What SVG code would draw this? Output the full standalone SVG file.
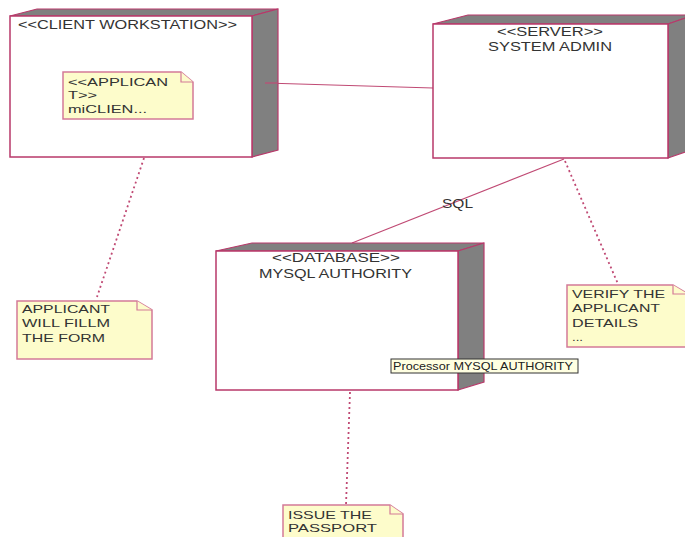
<svg xmlns="http://www.w3.org/2000/svg" width="685" height="537" viewBox="0 0 685 537">
<style>
.front{fill:#fff;stroke:#b8396a;stroke-width:1.5}
.face{fill:#808080;stroke:#b8396a;stroke-width:1.2}
.note{fill:#fdfccb;stroke:#d47a98;stroke-width:1.5}
.fold{fill:#fdfccb;stroke:#d47a98;stroke-width:1.2}
text{font-family:"Liberation Sans",Arial,sans-serif;font-size:13px;fill:#333}
.nt{font-size:11.5px}
.solid{stroke:#c04a74;stroke-width:1.2;fill:none}
.dot{stroke:#c04a74;stroke-width:1.8;fill:none;stroke-dasharray:2,3}
</style>
<g id="connectors">
<line class="solid" x1="265" y1="83" x2="433" y2="88"/>
<line class="solid" x1="564" y1="159" x2="352" y2="243"/>
<text x="442" y="208" textLength="31" lengthAdjust="spacingAndGlyphs">SQL</text>
<line class="dot" x1="130" y1="120" x2="130" y2="157"/>
<line class="dot" x1="144" y1="158" x2="97" y2="297"/>
<line class="dot" x1="565" y1="161" x2="618" y2="284"/>
<line class="dot" x1="350" y1="392" x2="346" y2="505"/>
</g>
<g id="client">
<polygon class="face" points="10,16 37,9 278,9 252,16"/>
<polygon class="face" points="252,16 278,9 278,150 252,157"/>
<rect class="front" x="10" y="16" width="242" height="141"/>
<text x="18" y="29" textLength="219" lengthAdjust="spacingAndGlyphs">&lt;&lt;CLIENT WORKSTATION&gt;&gt;</text>
<line class="solid" x1="265" y1="83" x2="278" y2="83"/>
</g>
<g id="applicant-inner">
<path class="note" d="M63,72 H181 L193,82 V119 H63 Z"/>
<path class="fold" d="M181,72 V82 H193"/>
<text class="nt" x="68" y="86" textLength="100" lengthAdjust="spacingAndGlyphs">&lt;&lt;APPLICAN</text>
<text class="nt" x="68" y="99" textLength="29" lengthAdjust="spacingAndGlyphs">T&gt;&gt;</text>
<text class="nt" x="68" y="113" textLength="79" lengthAdjust="spacingAndGlyphs">miCLIEN...</text>
</g>
<g id="server">
<polygon class="face" points="433,24 468,15 694,15 668,24"/>
<polygon class="face" points="668,24 694,15 694,149 668,158"/>
<rect class="front" x="433" y="24" width="235" height="134"/>
<text x="497" y="36" textLength="106" lengthAdjust="spacingAndGlyphs">&lt;&lt;SERVER&gt;&gt;</text>
<text x="488" y="51" textLength="124" lengthAdjust="spacingAndGlyphs">SYSTEM ADMIN</text>
</g>
<g id="database">
<polygon class="face" points="216,251 252,243 484,243 458,251"/>
<polygon class="face" points="458,251 484,243 484,382 458,390"/>
<rect class="front" x="216" y="251" width="242" height="139"/>
<text x="272" y="262" textLength="128" lengthAdjust="spacingAndGlyphs">&lt;&lt;DATABASE&gt;&gt;</text>
<text x="259" y="278" textLength="153" lengthAdjust="spacingAndGlyphs">MYSQL AUTHORITY</text>
</g>
<g id="tooltip">
<rect x="391" y="359" width="187" height="14" fill="#ffffe1" stroke="#333" stroke-width="1"/>
<text x="393" y="370" style="font-size:11px;fill:#222" textLength="180" lengthAdjust="spacingAndGlyphs">Processor MYSQL AUTHORITY</text>
</g>
<g id="note-applicant">
<path class="note" d="M17,301 H137 L152,310 V359 H17 Z"/>
<path class="fold" d="M137,301 V310 H152"/>
<text class="nt" x="22" y="313" textLength="88" lengthAdjust="spacingAndGlyphs">APPLICANT</text>
<text class="nt" x="22" y="327" textLength="88" lengthAdjust="spacingAndGlyphs">WILL FILLM</text>
<text class="nt" x="22" y="342" textLength="83" lengthAdjust="spacingAndGlyphs">THE FORM</text>
</g>
<g id="note-verify">
<path class="note" d="M567,285 H673 L688,294 V347 H567 Z"/>
<path class="fold" d="M673,285 V294 H688"/>
<text class="nt" x="572" y="298" textLength="93" lengthAdjust="spacingAndGlyphs">VERIFY THE</text>
<text class="nt" x="572" y="312" textLength="88" lengthAdjust="spacingAndGlyphs">APPLICANT</text>
<text class="nt" x="572" y="327" textLength="66" lengthAdjust="spacingAndGlyphs">DETAILS</text>
<text class="nt" x="572" y="341" textLength="11" lengthAdjust="spacingAndGlyphs">...</text>
</g>
<g id="note-issue">
<path class="note" d="M283,505 H390 L403,514 V545 H283 Z"/>
<path class="fold" d="M390,505 V514 H403"/>
<text class="nt" x="288" y="519" textLength="84" lengthAdjust="spacingAndGlyphs">ISSUE THE</text>
<text class="nt" x="288" y="532" textLength="89" lengthAdjust="spacingAndGlyphs">PASSPORT</text>
</g>
</svg>
